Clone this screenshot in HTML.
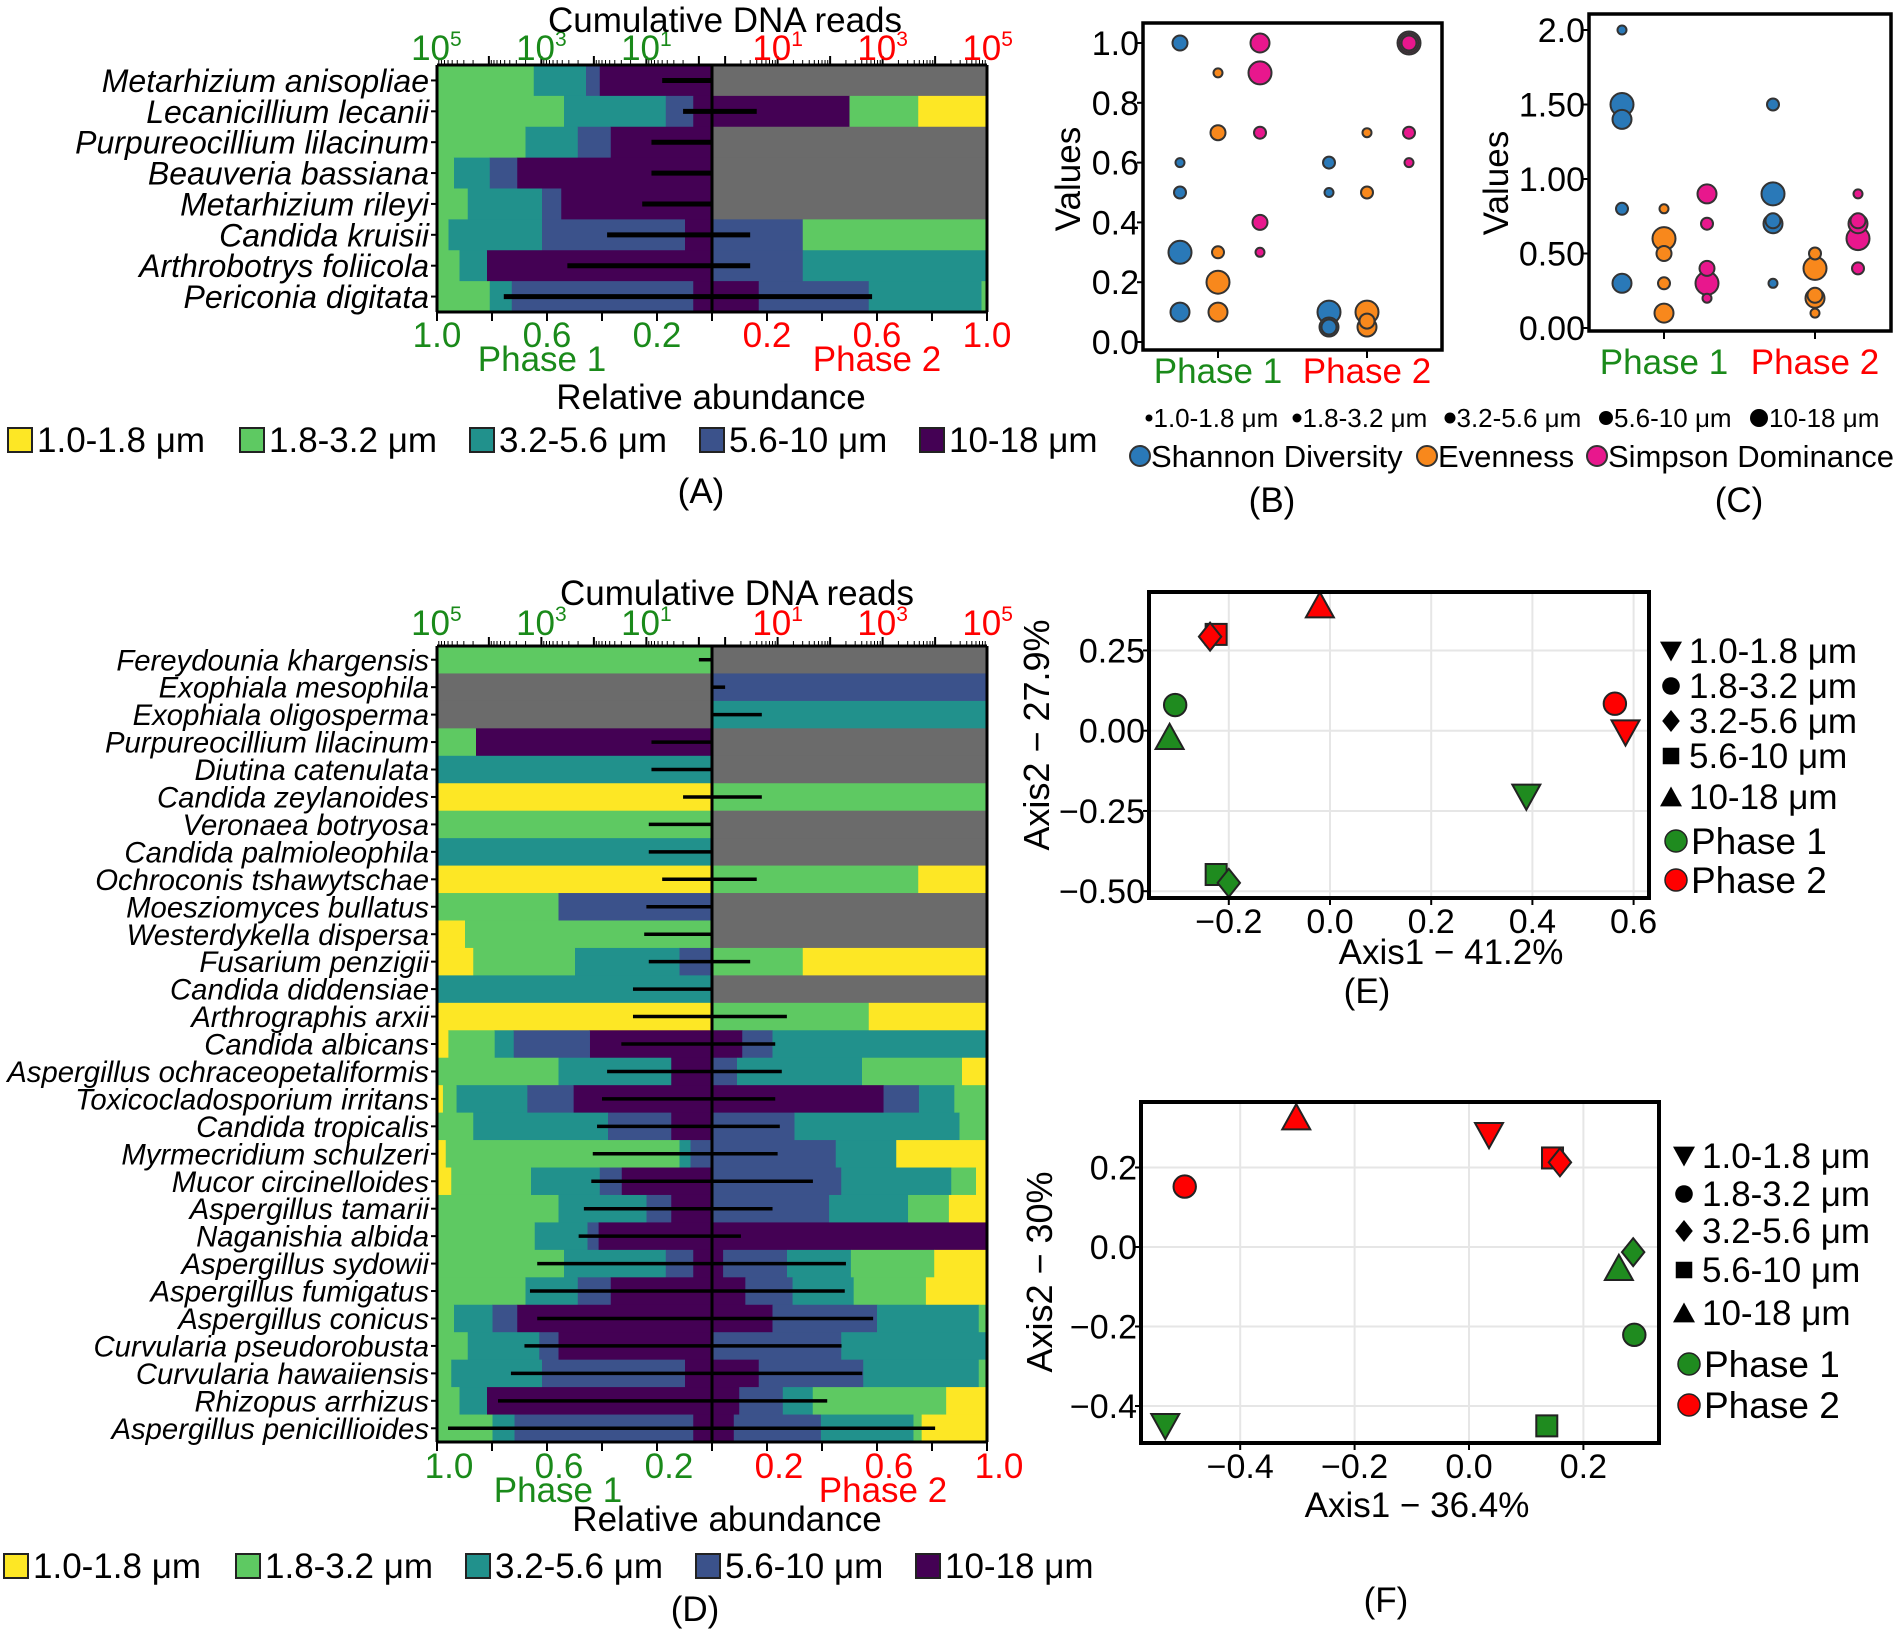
<!DOCTYPE html>
<html><head><meta charset="utf-8"><style>
html,body{margin:0;padding:0;background:#fff;}
svg{display:block;font-family:"Liberation Sans",Arial,sans-serif;}
</style></head><body>
<svg id="fig" width="1904" height="1637" viewBox="0 0 1904 1637" xmlns="http://www.w3.org/2000/svg"></svg>
<script>
// ---------- DATA ----------
const sizeLabels = ["1.0-1.8 μm","1.8-3.2 μm","3.2-5.6 μm","5.6-10 μm","10-18 μm"];
const aSpecies = ["Metarhizium anisopliae","Lecanicillium lecanii","Purpureocillium lilacinum","Beauveria bassiana","Metarhizium rileyi","Candida kruisii","Arthrobotrys foliicola","Periconia digitata"];
const aP1 = [[0,0.35,0.19,0.05,0.41],[0,0.46,0.37,0.10,0.07],[0,0.32,0.19,0.12,0.37],[0,0.06,0.13,0.10,0.71],[0,0.11,0.27,0.07,0.55],[0,0.04,0.34,0.52,0.10],[0,0.08,0.10,0,0.82],[0,0.19,0.08,0.66,0.07]];
const aP2 = [null,[0.25,0.25,0,0,0.50],null,null,null,[0,0.67,0,0.33,0],[0,0,0.67,0.33,0],[0,0.02,0.41,0.40,0.17]];
const aReads1 = [5,2,8,8,12,56,320,5200];
const aReads2 = [0,4,0,0,0,3,3,630];

const dSpecies = ["Fereydounia khargensis","Exophiala mesophila","Exophiala oligosperma","Purpureocillium lilacinum","Diutina catenulata","Candida zeylanoides","Veronaea botryosa","Candida palmioleophila","Ochroconis tshawytschae","Moesziomyces bullatus","Westerdykella dispersa","Fusarium penzigii","Candida diddensiae","Arthrographis arxii","Candida albicans","Aspergillus ochraceopetaliformis","Toxicocladosporium irritans","Candida tropicalis","Myrmecridium schulzeri","Mucor circinelloides","Aspergillus tamarii","Naganishia albida","Aspergillus sydowii","Aspergillus fumigatus","Aspergillus conicus","Curvularia pseudorobusta","Curvularia hawaiiensis","Rhizopus arrhizus","Aspergillus penicillioides"];
const dP1 = [[0,1,0,0,0],null,null,[0,0.14,0,0,0.86],[0,0,1,0,0],[1,0,0,0,0],[0,1,0,0,0],[0,0,1,0,0],[1,0,0,0,0],[0,0.44,0,0.56,0],[0.10,0.90,0,0,0],[0.13,0.37,0.38,0.12,0],[0,0,1,0,0],[1,0,0,0,0],[0.04,0.17,0.07,0.28,0.45],[0,0.44,0.41,0,0.15],[0.02,0.05,0.26,0.17,0.51],[0,0.13,0.49,0.23,0.15],[0.03,0.85,0.04,0.08,0],[0.05,0.29,0.25,0.08,0.33],[0,0.44,0.32,0.09,0.15],[0,0.35,0.19,0.04,0.41],[0,0.46,0.37,0.10,0.07],[0,0.32,0.19,0.12,0.37],[0,0.06,0.14,0.09,0.71],[0,0.11,0.26,0.07,0.56],[0,0.05,0.33,0.52,0.10],[0,0.08,0.10,0,0.82],[0,0.20,0.08,0.65,0.07]];
const dP2 = [null,[0,0,0,1,0],[0,0,1,0,0],null,null,[0,1,0,0,0],null,null,[0.25,0.75,0,0,0],null,null,[0.67,0.33,0,0,0],null,[0.43,0.57,0,0,0],[0,0,0.78,0.11,0.11],[0.09,0.36,0.45,0.09,0],[0,0.12,0.13,0.13,0.63],[0,0.10,0.60,0.30,0],[0.33,0,0.22,0.45,0],[0.04,0.09,0.40,0.47,0],[0.14,0.15,0.29,0.43,0],[0,0,0,0,1],[0.19,0.30,0.23,0.23,0.04],[0.22,0.26,0.22,0.17,0.12],[0,0.03,0.37,0.38,0.22],[0,0,0.53,0.47,0],[0,0.03,0.42,0.38,0.17],[0.15,0.49,0.11,0.16,0.10],[0.24,0.03,0.34,0.32,0.08]];
const dReads1 = [1,0,0,8,8,2,9,9,5,10,11,9,18,18,30,56,70,87,105,112,155,195,1200,1650,1200,2100,3800,6700,60000];
const dReads2 = [0,1,5,0,0,5,0,0,4,0,0,3,0,15,9,12,9,11,10,47,8,2,200,190,660,165,410,88,10000];

const abundTicks = [1.0,0.6,0.2];
const readTicks = [5,3,1];

const metricNames = ["Shannon Diversity","Evenness","Simpson Dominance"];
const bPhase  = [0,0,0,0,0, 0,0,0,0,0, 0,0,0,0,0, 1,1,1,1,1, 1,1,1,1,1, 1,1,1,1,1];
const bMetric = [0,0,0,0,0, 1,1,1,1,1, 2,2,2,2,2, 0,0,0,0,0, 1,1,1,1,1, 2,2,2,2,2];
const bSize   = [2,0,1,4,3, 0,2,1,4,3, 3,4,1,2,0, 1,0,4,3,2, 0,1,4,3,2, 4,3,2,1,0];
const bValue  = [1.0,0.6,0.5,0.3,0.1, 0.9,0.7,0.3,0.2,0.1, 1.0,0.9,0.7,0.4,0.3, 0.6,0.5,0.1,0.05,0.05, 0.7,0.5,0.1,0.05,0.07, 1.0,1.0,1.0,0.7,0.6];
const bTicks = [0.0,0.2,0.4,0.6,0.8,1.0];
const cPhase  = [0,0,0,0,0, 0,0,0,0,0, 0,0,0,0,0, 1,1,1,1,1, 1,1,1,1,1, 1,1,1,1,1];
const cMetric = [0,0,0,0,0, 1,1,1,1,1, 2,2,2,2,2, 0,0,0,0,0, 1,1,1,1,1, 2,2,2,2,2];
const cSize   = [0,4,3,1,3, 0,4,2,1,3, 3,1,2,4,0, 1,4,3,2,0, 1,4,3,2,0, 0,3,2,4,1];
const cValue  = [2.0,1.5,1.4,0.8,0.3, 0.8,0.6,0.5,0.3,0.1, 0.9,0.7,0.4,0.3,0.2, 1.5,0.9,0.7,0.72,0.3, 0.5,0.4,0.2,0.22,0.1, 0.9,0.7,0.72,0.6,0.4];
const cTicks = [0.0,0.5,1.0,1.5,2.0];
const cTickLabels = ["0.00","0.50","1.00","1.50","2.0"];

const eSize  = [4,3,2,1,4,1,0,0,3,2];
const ePhase = [1,1,1,0,0,1,1,0,0,0];
const eX = [-0.02,-0.225,-0.237,-0.306,-0.317,0.563,0.584,0.388,-0.225,-0.2];
const eY = [0.39,0.30,0.293,0.08,-0.02,0.084,-0.005,-0.205,-0.448,-0.474];
const eXTicks = [-0.2,0.0,0.2,0.4,0.6];
const eYTicks = [0.25,0.00,-0.25,-0.50];
const eYTickLabels = ["0.25","0.00","−0.25","−0.50"];
const fSize  = [4,0,3,2,1,2,4,1,0,3];
const fPhase = [1,1,1,1,1,0,0,0,0,0];
const fX = [-0.302,0.035,0.146,0.159,-0.497,0.287,0.262,0.289,-0.531,0.136];
const fY = [0.326,0.282,0.224,0.213,0.152,-0.013,-0.053,-0.221,-0.45,-0.45];
const fXTicks = [-0.4,-0.2,0.0,0.2];
const fYTicks = [0.2,0.0,-0.2,-0.4];

// ---------- HELPERS ----------
const NS='http://www.w3.org/2000/svg';
const svg=document.getElementById('fig');
const COLS=["#fde725","#5ec962","#21918c","#3b528b","#440154"];
const GRAY="#6b6b6b", GREEN="#1a8a1a", RED="#ff0000";
const MCOL=["#2a79b8","#f8881c","#e8178d"];
function mk(tag,attrs,parent){const e=document.createElementNS(NS,tag);for(const k in attrs)e.setAttribute(k,attrs[k]);(parent||svg).appendChild(e);return e;}
function txt(x,y,s,attrs,parent){const e=mk('text',Object.assign({x:x,y:y},attrs||{}),parent);e.textContent=s;return e;}
function fmtTick(v,d){return (v<0?"−":"")+Math.abs(v).toFixed(d);}

// ---------- BAR PANELS ----------
function barPanel(id,species,p1,p2,r1,r2,X0,XC,X1,Y0,Y1,spFont,barStroke,labOff,ys){
  const g=mk('g',{});
  
  
  const n=species.length, rh=(Y1-Y0)/n, hw=XC-X0;
  const abundX=(side,f)=>side<0?XC-f*hw:XC+f*(X1-XC);
  const readD=v=>(Math.log10(v)+0.25)*52.5;
  for(let i=0;i<n;i++){
    const y=Y0+i*rh;
    [[p1[i],-1],[p2[i],1]].forEach(([fr,side])=>{
      if(!fr){
        const r=mk('rect',{x:side<0?X0:XC,y:y,width:side<0?hw:X1-XC,height:rh+0.5,fill:GRAY},g);
        
        
        return;
      }
      const tot=fr.reduce((a,b)=>a+b,0);let cum=0;
      for(let k=4;k>=0;k--){
        if(fr[k]<=0)continue;
        const a=abundX(side,cum/tot),b=abundX(side,(cum+fr[k])/tot);cum+=fr[k];
        const r=mk('rect',{x:Math.min(a,b),y:y,width:Math.abs(b-a)+0.5,height:rh+0.5,fill:COLS[k]},g);
        
        
      }
    });
    const cy=y+rh/2;
    if(r1[i]>0){const l=mk('line',{x1:XC,x2:XC-readD(r1[i]),y1:cy,y2:cy,stroke:'#000','stroke-width':barStroke},g);
      
      }
    if(r2[i]>0){const l=mk('line',{x1:XC,x2:XC+readD(r2[i]),y1:cy,y2:cy,stroke:'#000','stroke-width':barStroke},g);
      
      }
    const t=txt(X0-8,cy+spFont*0.36,species[i],{'text-anchor':'end','font-size':spFont,'font-style':'italic'},g);
    
    
    const tk=mk('line',{x1:X0-6,x2:X0,y1:cy,y2:cy,stroke:'#000','stroke-width':2},g);
    
    
  }
  const fr=mk('path',{d:`M${X0},${Y0}H${X1}M${X0},${Y1}H${X1}M${X0},${Y0}V${Y1}M${X1},${Y0}V${Y1}`,stroke:'#000','stroke-width':3,fill:'none'},g);
  
  
  const cl=mk('line',{x1:XC,x2:XC,y1:Y0,y2:Y1,stroke:'#000','stroke-width':3},g);
  
  
  for(let k=0;k<=5;k++){[-1,1].forEach(s=>{const x=abundX(s,k*0.2);
    const l=mk('line',{x1:x,x2:x,y1:Y1,y2:Y1+9,stroke:'#000','stroke-width':2},g);
    
    });}
  abundTicks.forEach(v=>{[-1,1].forEach(s=>{
    const t=txt(abundX(s,v)+labOff,ys.bot,v.toFixed(1),{'text-anchor':'middle','font-size':35,fill:s<0?GREEN:RED},g);
    
    });});
  for(let d=0;d<5;d++){for(let m=1;m<10;m++){const v=Math.pow(10,d)*m;[-1,1].forEach(s=>{
    const x=XC+s*readD(v);const len=m===1?9:5;
    const l=mk('line',{x1:x,x2:x,y1:Y0,y2:Y0-len,stroke:'#000','stroke-width':m===1?2:1},g);
    
    });}}
  readTicks.forEach(p=>{[-1,1].forEach(s=>{
    const x=XC+s*readD(Math.pow(10,p));
    const t=txt(x,ys.top,"10",{'text-anchor':'middle','font-size':35,fill:s<0?GREEN:RED},g);
    const sp=mk('tspan',{'font-size':21,dy:-14},t);sp.textContent=String(p);
    
    });});
  const labels=[[ys.titleX,ys.title,"Cumulative DNA reads",'#000','cumulative-reads-title'],[ys.p1x,ys.phase,"Phase 1",GREEN,'phase1-label'],[ys.p2x,ys.phase,"Phase 2",RED,'phase2-label'],[ys.relX,ys.rel,"Relative abundance",'#000','relative-abundance-title'],[ys.capX,ys.cap,ys.capText,'#000','panel-caption']];
  labels.forEach(L=>{const t=txt(L[0],L[1],L[2],{'text-anchor':'middle','font-size':35,fill:L[3]},g);
    
    });
  ys.legX.forEach((x,k)=>{
    const r=mk('rect',{x:x,y:ys.leg-24,width:24,height:24,fill:COLS[k],stroke:'#222','stroke-width':2},g);
    
    
    const t=txt(x+29,ys.leg,sizeLabels[k],{'font-size':35},g);
    
    
  });
}
barPanel('panel-a',aSpecies,aP1,aP2,aReads1,aReads2,437,712,987,65,312,32,5,0,
  {top:60,bot:347,phase:371,rel:409,title:32,titleX:725,p1x:542,p2x:877,relX:711,cap:503,capX:701,capText:"(A)",leg:452,legX:[8,240,470,700,920]});
barPanel('panel-d',dSpecies,dP1,dP2,dReads1,dReads2,437,712,987,646,1442,29.3,3.5,12,
  {top:635,bot:1478,phase:1502,rel:1531,title:605,titleX:737,p1x:558,p2x:883,relX:727,cap:1621,capX:695,capText:"(D)",leg:1578,legX:[4,236,466,696,916]});

// ---------- B / C SCATTER ----------
const radii=[4.5,6,7.5,9.5,11.5];
function dotPanel(id,ph,me,sz,val,ticks,tlabels,bx0,bx1,by0,by1,ymap,pc,off,valX,valY,phOff){
  const g=mk('g',{});
  
  
  const fr=mk('rect',{x:bx0,y:by0,width:bx1-bx0,height:by1-by0,fill:'#fff',stroke:'#000','stroke-width':3.5},g);
  
  
  ticks.forEach((v,i)=>{const y=ymap(v);
    const l=mk('line',{x1:bx0-6,x2:bx0,y1:y,y2:y,stroke:'#000','stroke-width':2},g);
    
    
    const t=txt(bx0-4,y+12,tlabels[i],{'text-anchor':'end','font-size':34},g);
    
    });
  pc.forEach((x,i)=>{
    const l=mk('line',{x1:x,x2:x,y1:by1,y2:by1+8,stroke:'#000','stroke-width':2},g);
    
    
    const t=txt(x,by1+phOff,"Phase "+(i+1),{'text-anchor':'middle','font-size':35,fill:i?RED:GREEN},g);
    
    });
  const order=val.map((v,i)=>i).sort((a,b)=>sz[b]-sz[a]);
  order.forEach(i=>{
    const c=mk('circle',{cx:pc[ph[i]]+off[me[i]],cy:ymap(val[i]),r:radii[sz[i]],fill:MCOL[me[i]],stroke:'#333','stroke-width':2},g);
    
    });
  const yl=txt(valX,valY,"Values",{'text-anchor':'middle','font-size':35,transform:`rotate(-90 ${valX} ${valY})`},g);
  
  
}
dotPanel('panel-b',bPhase,bMetric,bSize,bValue,bTicks,bTicks.map(v=>v.toFixed(1)),1143,1442,23,350,v=>342-v*299,[1218,1367],[-38,0,42],1080,179,33);
dotPanel('panel-c',cPhase,cMetric,cSize,cValue,cTicks,cTickLabels,1589,1891,14,331,v=>328-v*149,[1664,1815],[-42,0,43],1508,183,43);
const legDotX=[1149,1297,1450,1606,1759];
const legDotR=[3.5,4.5,5.5,7,9];
legDotX.forEach((x,k)=>{
  const c=mk('circle',{cx:x,cy:418,r:legDotR[k],fill:'#000'});
  
  
  const t=txt(x+legDotR[k]+1,427,sizeLabels[k],{'font-size':26});
  
  
});
const legMX=[1140,1427,1597];
legMX.forEach((x,k)=>{
  const c=mk('circle',{cx:x,cy:456,r:10,fill:MCOL[k],stroke:'#333','stroke-width':2});
  
  
  const t=txt(x+11,467,metricNames[k],{'font-size':31});
  
  
});
[[1272,"(B)"],[1739,"(C)"]].forEach(L=>{const t=txt(L[0],512,L[1],{'text-anchor':'middle','font-size':35});
  
  });

// ---------- E / F PCoA ----------
function shape(g,k,x,y,s,fill){
  let e;
  if(k===1)e=mk('circle',{cx:x,cy:y,r:s*0.8},g);
  else if(k===0)e=mk('polygon',{points:`${x-s},${y-s*0.85} ${x+s},${y-s*0.85} ${x},${y+s*0.95}`},g);
  else if(k===4)e=mk('polygon',{points:`${x-s},${y+s*0.85} ${x+s},${y+s*0.85} ${x},${y-s*0.95}`},g);
  else if(k===2)e=mk('polygon',{points:`${x},${y-s} ${x+s*0.8},${y} ${x},${y+s} ${x-s*0.8},${y}`},g);
  else e=mk('rect',{x:x-s*0.75,y:y-s*0.75,width:s*1.5,height:s*1.5},g);
  e.setAttribute('fill',fill);
  return e;
}
function pcoa(id,sz,ph,xs,ys,xt,yt,ytl,xd,bx0,bx1,by0,by1,xm,ym,o){
  const g=mk('g',{});
  
  
  const bg=mk('rect',{x:bx0,y:by0,width:bx1-bx0,height:by1-by0,fill:'#fff'},g);
  
  
  xt.forEach(v=>{const x=xm(v);
    const l=mk('line',{x1:x,x2:x,y1:by0,y2:by1,stroke:'#e6e6e6','stroke-width':2},g);
    
    
    const tk=mk('line',{x1:x,x2:x,y1:by1,y2:by1+7,stroke:'#000','stroke-width':2},g);
    
    
    const t=txt(x,by1+35,fmtTick(v,xd),{'text-anchor':'middle','font-size':34},g);
    
    });
  yt.forEach((v,i)=>{const y=ym(v);
    const l=mk('line',{x1:bx0,x2:bx1,y1:y,y2:y,stroke:'#e6e6e6','stroke-width':2},g);
    
    
    const tk=mk('line',{x1:bx0-6,x2:bx0,y1:y,y2:y,stroke:'#000','stroke-width':2},g);
    
    
    const t=txt(bx0-4,y+12,ytl[i],{'text-anchor':'end','font-size':34},g);
    
    });
  xs.forEach((v,i)=>{
    const e=shape(g,sz[i],xm(v),ym(ys[i]),14,ph[i]?RED:'#1f8b1f');
    e.setAttribute('stroke','#222');
    e.setAttribute('stroke-width','2');
    
    });
  const fr=mk('rect',{x:bx0,y:by0,width:bx1-bx0,height:by1-by0,fill:'none',stroke:'#000','stroke-width':4},g);
  
  
  const xl=txt(o.axX,o.axY,o.ax1,{'text-anchor':'middle','font-size':35},g);
  
  
  const yl=txt(o.ayX,o.ayY,o.ax2,{'text-anchor':'middle','font-size':36,transform:`rotate(-90 ${o.ayX} ${o.ayY})`},g);
  
  
  o.legY.forEach((y,k)=>{
    const e=shape(g,k,o.legSX,y,11,'#000');
    
    
    const t=txt(o.legSX+18,y+12,sizeLabels[k],{'font-size':35},g);
    
    });
  o.phY.forEach((y,k)=>{
    const c=mk('circle',{cx:o.legSX+5,cy:y,r:11,fill:k?RED:'#1f8b1f',stroke:'#222','stroke-width':1.5},g);
    
    
    const t=txt(o.legSX+20,y+13,"Phase "+(k+1),{'font-size':37},g);
    
    });
  const cap=txt(o.capX,o.capY,o.cap,{'text-anchor':'middle','font-size':35},g);
  
  
}
pcoa('panel-e',eSize,ePhase,eX,eY,eXTicks,eYTicks,eYTickLabels,1,1149,1649,592,898,v=>1330+506*v,v=>730.7-321*v,
  {axX:1451,axY:964,ax1:"Axis1 − 41.2%",ayX:1049,ayY:735,ax2:"Axis2 − 27.9%",legSX:1671,legY:[651,686,721,756,797],phY:[841,880],capX:1367,capY:1003,cap:"(E)"});
pcoa('panel-f',fSize,fPhase,fX,fY,fXTicks,fYTicks,fYTicks.map(v=>fmtTick(v,1)),1,1141,1659,1102,1443,v=>1469+572*v,v=>1247-397.5*v,
  {axX:1417,axY:1517,ax1:"Axis1 − 36.4%",ayX:1052,ayY:1272,ax2:"Axis2 − 30%",legSX:1684,legY:[1156,1194,1231,1270,1313],phY:[1364,1405],capX:1386,capY:1612,cap:"(F)"});
</script>
</body></html>
